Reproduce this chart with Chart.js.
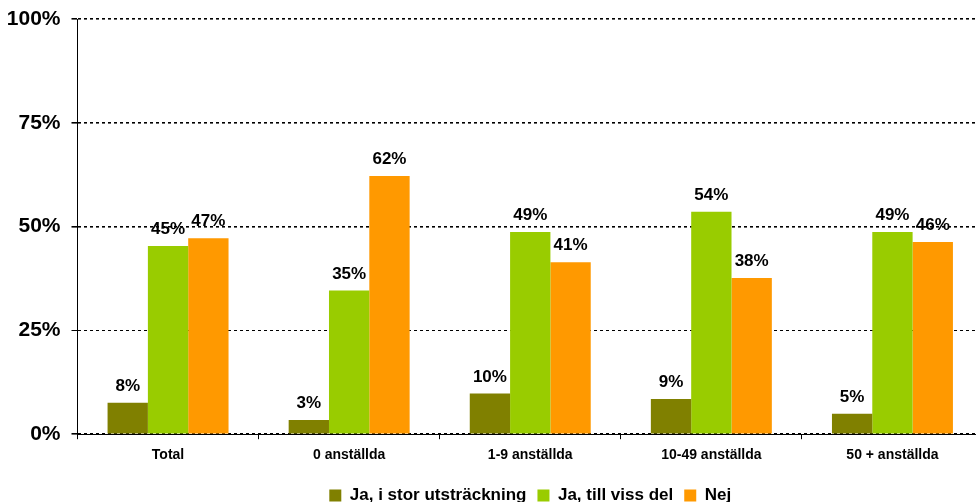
<!DOCTYPE html>
<html>
<head>
<meta charset="utf-8">
<script src="https://cdn.jsdelivr.net/npm/chart.js@4"></script>
<style>
  html, body { margin: 0; padding: 0; background: #fff; overflow: hidden; }
  #wrap { width: 983px; height: 502px; }
</style>
</head>
<body>
<div id="wrap"><canvas id="chart" width="983" height="502"></canvas></div>
<script>
const categories = ['Total', '0 anställda', '1-9 anställda', '10-49 anställda', '50 + anställda'];
const seriesNames = ['Ja, i stor utsträckning', 'Ja, till viss del', 'Nej'];
const storUtstrackning = [7.6, 3.4, 9.8, 8.5, 4.9];
const tillVissDel      = [45.3, 34.6, 48.7, 53.6, 48.7];
const nej              = [47.2, 62.2, 41.4, 37.6, 46.3];
const yTicks = [0, 25, 50, 75, 100];

const FONT = '"Liberation Sans", Arial, sans-serif';

// etiketter ovanför staplarna
const barLabels = {
  id: 'barLabels',
  afterDatasetsDraw(chart) {
    const ctx = chart.ctx;
    ctx.save();
    ctx.font = 'bold 17px ' + FONT;
    ctx.fillStyle = '#000';
    ctx.textAlign = 'center';
    ctx.textBaseline = 'alphabetic';
    chart.data.datasets.forEach((ds, i) => {
      chart.getDatasetMeta(i).data.forEach((bar, j) => {
        ctx.fillText(Math.round(ds.data[j]) + '%', bar.x, bar.y - 12);
      });
    });
    ctx.restore();
  }
};

new Chart(document.getElementById('chart'), {
  type: 'bar',
  data: {
    labels: categories,
    datasets: [
      { label: seriesNames[0], data: storUtstrackning, backgroundColor: '#808000' },
      { label: seriesNames[1], data: tillVissDel,      backgroundColor: '#99CC00' },
      { label: seriesNames[2], data: nej,              backgroundColor: '#FF9900' }
    ]
  },
  options: {
    responsive: false,
    animation: false,
    layout: { padding: { top: 19, left: 0, right: 0, bottom: -12 } },
    datasets: { bar: { barPercentage: 1, categoryPercentage: 0.668 } },
    plugins: {
      tooltip: { enabled: false },
      legend: {
        position: 'bottom',
        fullSize: false,
        labels: {
          boxWidth: 12, boxHeight: 12, padding: 11,
          color: '#000',
          font: { family: FONT, size: 17, weight: 'bold' }
        }
      }
    },
    scales: {
      x: {
        afterFit: scale => { scale.height += 4; },
        grid: { offset: true, drawOnChartArea: false, tickLength: 5, color: '#000' },
        border: { display: true, color: '#000', width: 1 },
        ticks: { color: '#000', padding: 8, font: { family: FONT, size: 14, weight: 'bold' } }
      },
      y: {
        min: 0, max: 100,
        afterBuildTicks: scale => { scale.ticks = yTicks.map(v => ({ value: v })); },
        afterFit: scale => { scale.width = 77.5; scale.paddingTop = 0; scale.paddingBottom = 0; },
        grid: {
          color: '#000',
          lineWidth: c => (c.tick && c.tick.value === 25 ? 1 : 1.6),
          tickLength: 6, tickColor: '#000', tickBorderDash: []
        },
        border: { display: true, color: '#000', width: 1, dash: [3, 3] },
        ticks: {
          color: '#000', padding: 11,
          font: { family: FONT, size: 21, weight: 'bold' },
          callback: v => v + '%'
        }
      }
    }
  },
  plugins: [barLabels]
});
</script>
</body>
</html>
